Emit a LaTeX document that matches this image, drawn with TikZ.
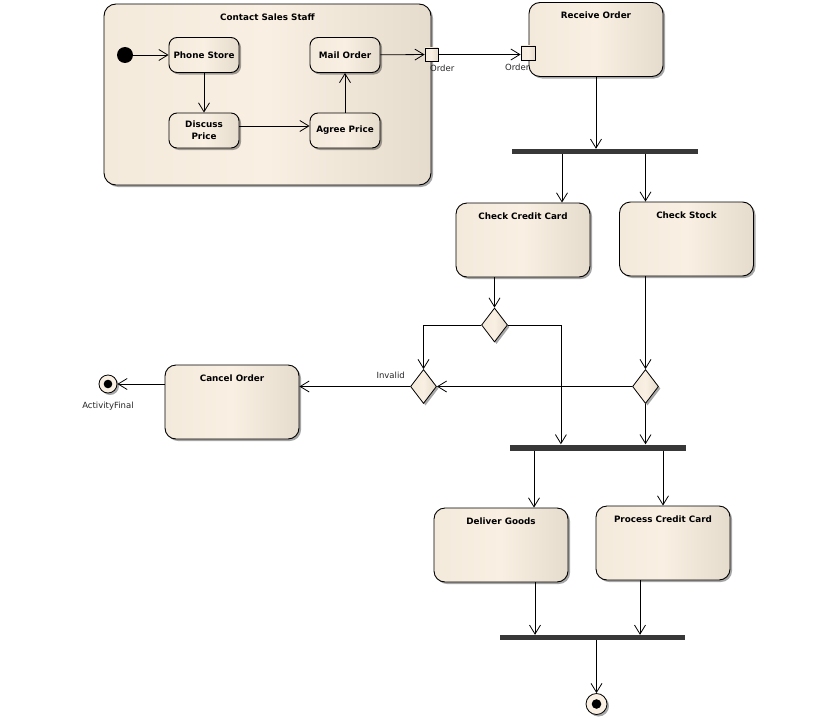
\documentclass[tikz,border=0pt]{standalone}
\usepackage{fontspec}
\setmainfont{DejaVu Sans}
\usetikzlibrary{arrows.meta,shadows,calc,shapes.geometric}
\definecolor{cL}{HTML}{F4EADC}
\definecolor{cM}{HTML}{F9EFE2}
\definecolor{cR}{HTML}{E6DCCD}
\tikzset{
 fillgrad/.style={left color=cL,right color=cR,middle color=cM},
 shad/.style={drop shadow={shadow xshift=2pt,shadow yshift=-2pt,opacity=0.35,fill=black}},
 act/.style={draw,line width=0.9pt,rounded corners=11pt,minimum width=134pt,minimum height=74pt,inner sep=0pt,fillgrad,shad},
 sact/.style={draw,line width=0.9pt,rounded corners=8pt,minimum width=70pt,minimum height=35pt,inner sep=0pt,fillgrad,shad,font=\fontsize{8.8}{12}\selectfont\bfseries,align=center},
 ttl/.style={font=\fontsize{8.8}{10}\selectfont\bfseries,anchor=north,inner sep=0pt,yshift=-10pt},
 lbl/.style={font=\fontsize{8.5}{10}\selectfont,text=black!85,inner sep=0pt},
 dec/.style={diamond,draw,line width=0.8pt,minimum width=26pt,minimum height=34pt,inner sep=0pt,fillgrad,shad},
 pin/.style={rectangle,draw,line width=0.8pt,minimum size=13pt,inner sep=0pt,fillgrad},
 bar/.style={rectangle,fill=black!78,inner sep=0pt,minimum height=5pt},
 arr/.style={line width=0.8pt,-{Straight Barb[length=9pt,width=11pt,line width=0.8pt]}},
}
\begin{document}
\begin{tikzpicture}[x=1pt,y=-1pt]
\path[use as bounding box,fill=white] (0,0) rectangle (840,717);
% container
\node[act,rounded corners=12pt,minimum width=327pt,minimum height=181pt,label={[ttl]north:Contact Sales Staff}] (cs) at (267.5,94.5) {};
\node[circle,fill=black,minimum size=16pt,inner sep=0pt] (init) at (125,55) {};
\node[sact] (phone) at (204,55) {Phone Store};
\node[sact] (discuss) at (204,130.5) {Discuss\\Price};
\node[sact] (mail) at (345,55) {Mail Order};
\node[sact] (agree) at (345,130.5) {Agree Price};
\node[pin] (pin1) at (431.5,54.5) {};
\node[act,label={[ttl]north:Receive Order}] (recv) at (596,39.5) {};
\node[pin,minimum size=14pt] (pin2) at (528,53) {};
\node[lbl,anchor=north west] (o1) at (430,64.5) {Order};
\node[lbl,anchor=north west] (o2) at (505,63.5) {Order};
\node[bar,minimum width=186pt] (bar1) at (605,151.5) {};
\node[act,label={[ttl]north:Check Credit Card}] (ccc) at (523,240) {};
\node[act,label={[ttl]north:Check Stock}] (stock) at (686.5,239) {};
\node[dec] (d1) at (494.5,325) {};
\node[dec] (d2) at (423.5,386.5) {};
\node[dec] (d3) at (645.5,386.5) {};
\node[act,label={[ttl]north:Cancel Order}] (cancel) at (232,402) {};
\node[circle,draw,line width=0.8pt,fill=cM,minimum size=18pt,inner sep=0pt,shad,
  path picture={\fill[black] (path picture bounding box.center) circle (4.3pt);}] (afin) at (108,384) {};
\node[lbl] (afl) at (108,406.5) {ActivityFinal};
\node[lbl,anchor=south east] (inv) at (405,378.5) {Invalid};
\node[bar,minimum width=176pt,minimum height=6pt] (bar2) at (598,447.5) {};
\node[act,label={[ttl]north:Deliver Goods}] (deliver) at (501,545) {};
\node[act,label={[ttl]north:Process Credit Card}] (process) at (663,543) {};
\node[bar,minimum width=185pt] (bar3) at (592.5,637.5) {};
\node[circle,draw,line width=0.8pt,fill=cM,minimum size=21pt,inner sep=0pt,shad,
  path picture={\fill[black] (path picture bounding box.center) circle (4.8pt);}] (fin) at (596.5,704) {};
% edges
\draw[arr] (init) -- (phone);
\draw[arr] (phone) -- (discuss);
\draw[arr] ([yshift=4.5pt]discuss.east) -- ([yshift=4.5pt]agree.west);
\draw[arr] (agree) -- (mail);
\draw[arr] (mail) -- (pin1);
\draw[arr] (pin1.east) -- (pin2.west |- pin1.east);
\draw[arr] (recv.south) -- (recv.south |- bar1.north);
\coordinate (c1) at ($(ccc.north)+(39,0)$);
\draw[arr] (bar1.south -| c1) -- (c1);
\coordinate (c2) at ($(stock.north)+(-41,0)$);
\draw[arr] (bar1.south -| c2) -- (c2);
\draw[arr] (ccc.south -| d1) -- (d1.north);
\draw[arr] (d1.west) -| (d2.north);
\draw[arr] (d1.east) -- ++(53,0) coordinate (c4) -- (c4 |- bar2.north);
\draw[arr] (stock.south -| d3) -- (d3.north);
\draw[arr] (d3.west) -- (d2.east);
\draw[arr] (d3.south) -- (d3.south |- bar2.north);
\draw[arr] (d2.west) -- (cancel.east |- d2.west);
\draw[arr] (cancel.west |- afin) -- (afin);
\coordinate (c5) at ($(deliver.north)+(33,0)$);
\draw[arr] (bar2.south -| c5) -- (c5);
\draw[arr] (bar2.south -| process.north) -- (process.north);
\coordinate (c6) at ($(deliver.south)+(34,0)$);
\draw[arr] (c6) -- (c6 |- bar3.north);
\coordinate (c7) at ($(process.south)+(-23,0)$);
\draw[arr] (c7) -- (c7 |- bar3.north);
\draw[arr] (bar3.south -| fin) -- (fin.north);
\end{tikzpicture}
\end{document}
